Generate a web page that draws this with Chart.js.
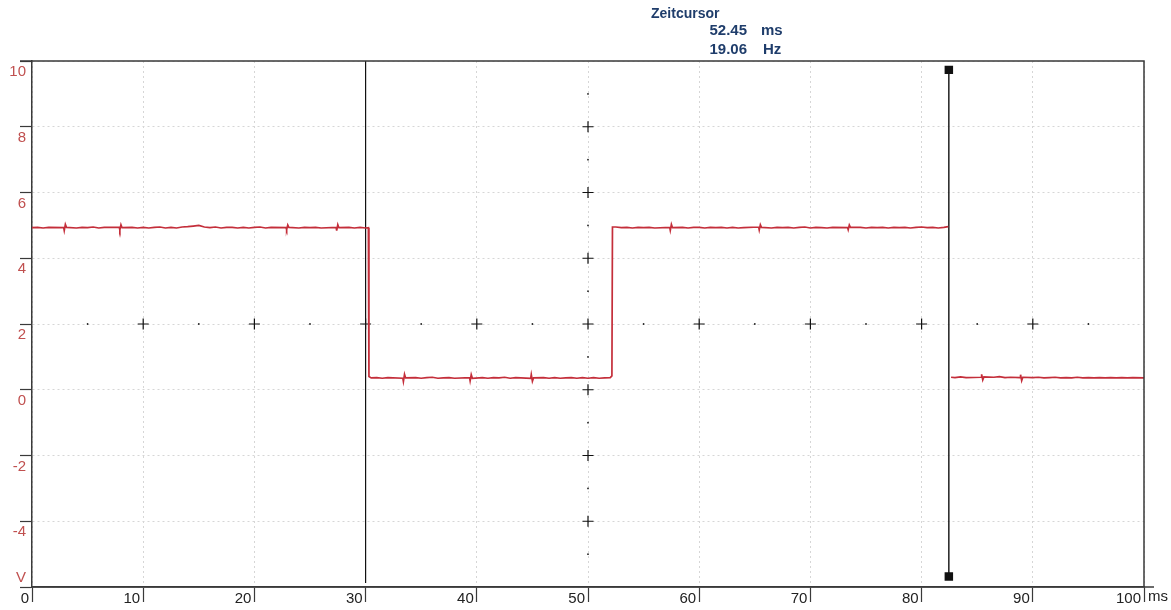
<!DOCTYPE html>
<html>
<head>
<meta charset="utf-8">
<script src="https://cdn.jsdelivr.net/npm/chart.js@4.4.1/dist/chart.umd.min.js"></script>
<style>
  html, body { margin: 0; padding: 0; background: #fff; }
  canvas { display: block; }
</style>
</head>
<body>
<canvas id="scope" width="1171" height="610"></canvas>
<script>
// measured trace, in four pieces (ms / V)
const highA_t = [0, 0.5, 1, 1.5, 2.85, 2.9, 3, 3.1, 4, 4.5, 5, 5.5, 6, 6.5, 7.85, 7.9, 8, 8.1, 9, 9.5,
  10, 10.5, 11, 11.5, 12, 12.5, 13, 13.5, 14, 14.5, 15, 15.5, 16, 16.5, 17, 17.5, 18, 18.5, 19, 19.5,
  20, 20.5, 21, 21.5, 22.85, 22.9, 23, 23.1, 24, 24.5, 25, 25.5, 26, 27.35, 27.4, 27.5, 27.6, 28.5, 29, 29.5, 30, 30.25];
const highA_v = [4.93, 4.94, 4.92, 4.94, 4.93, 4.84, 5.03, 4.94, 4.92, 4.94,
  4.93, 4.95, 4.92, 4.94, 4.94, 4.86, 5.02, 4.93, 4.94, 4.92,
  4.94, 4.92, 4.94, 4.95, 4.92, 4.94, 4.92, 4.95, 4.96, 4.98,
  5.00, 4.95, 4.93, 4.95, 4.92, 4.94, 4.94, 4.92, 4.94, 4.92,
  4.94, 4.95, 4.92, 4.94, 4.93, 4.87, 5.01, 4.94, 4.92, 4.94,
  4.93, 4.94, 4.92, 4.94, 4.84, 5.02, 4.93, 4.94, 4.92, 4.94, 4.92, 4.93];

const lowB_t = [30.3, 30.5, 31, 31.5, 32, 33.35, 33.4, 33.5, 33.6, 34.5, 35, 35.5, 36, 36.5, 37, 37.5, 38, 39.35, 39.4, 39.5,
  39.6, 40.5, 41, 41.5, 42, 42.5, 43, 43.5, 44.85, 44.9, 45, 45.1, 46, 46.5, 47, 47.5, 48, 48.5, 49, 49.5,
  50, 50.5, 51, 51.5, 52, 52.15];
const lowB_v = [0.40, 0.36, 0.37, 0.35, 0.37, 0.35, 0.25, 0.47, 0.36, 0.37,
  0.35, 0.37, 0.38, 0.35, 0.36, 0.37, 0.35, 0.37, 0.27, 0.46,
  0.35, 0.37, 0.35, 0.37, 0.36, 0.38, 0.35, 0.37, 0.35, 0.46,
  0.26, 0.36, 0.37, 0.35, 0.37, 0.35, 0.36, 0.37, 0.35, 0.37,
  0.35, 0.37, 0.35, 0.36, 0.37, 0.42];

const highC_t = [52.2, 52.5, 53, 53.5, 54, 54.5, 55, 55.5, 56, 57.35, 57.4, 57.5, 57.6, 58.5, 59, 59.5,
  60, 60.5, 61, 61.5, 62, 62.5, 63, 63.5, 64, 65.35, 65.4, 65.5, 65.6, 66.5, 67, 67.5, 68, 68.5, 69, 69.5,
  70, 70.5, 71, 71.5, 72, 73.35, 73.4, 73.5, 73.6, 74.5, 75, 75.5, 76, 76.5, 77, 77.5, 78, 78.5, 79, 79.5,
  80, 80.5, 81, 81.5, 82, 82.4];
const highC_v = [4.95, 4.95, 4.93, 4.94, 4.92, 4.94, 4.93, 4.94, 4.92, 4.94,
  4.85, 5.03, 4.93, 4.94, 4.92, 4.94, 4.94, 4.92, 4.94, 4.93,
  4.94, 4.92, 4.94, 4.92, 4.93, 4.95, 4.86, 5.02, 4.94, 4.92,
  4.94, 4.93, 4.94, 4.92, 4.94, 4.95, 4.92, 4.94, 4.93, 4.92,
  4.94, 4.93, 4.87, 5.01, 4.94, 4.94, 4.92, 4.94, 4.93, 4.94,
  4.92, 4.94, 4.93, 4.94, 4.92, 4.94, 4.95, 4.93, 4.94, 4.92, 4.94, 4.96];

const lowD_t = [82.65, 83, 83.5, 84, 85.35, 85.4, 85.5, 85.6, 86.5, 87, 87.5, 88, 88.85, 88.9, 89, 89.1,
  90, 90.5, 91, 91.5, 92, 92.5, 93, 93.5, 94, 94.5, 95, 95.5, 96, 96.5, 97, 97.5, 98, 98.5, 99, 100];
const lowD_v = [0.38, 0.37, 0.39, 0.37, 0.38, 0.47, 0.30, 0.39, 0.38, 0.40,
  0.37, 0.38, 0.37, 0.46, 0.28, 0.38, 0.37, 0.38, 0.36, 0.37,
  0.38, 0.36, 0.37, 0.36, 0.38, 0.36, 0.37, 0.36, 0.37, 0.36,
  0.37, 0.36, 0.37, 0.36, 0.37, 0.36];

const gapTime = 82.5; // recording gap at the second cursor

// time cursors (ms)
const cursor1 = 30.0;
const cursor2 = 82.45;
const cursorReadout = ['52.45', '19.06'];
const cursorUnits = ['ms', 'Hz'];

// graticule marks
const crossX = [10, 20, 30, 40, 50, 60, 70, 80, 90];   // on the 2 V line
const crossY = [8, 6, 4, 0, -2, -4];                     // on the 50 ms line
const dotX = [5, 15, 25, 35, 45, 55, 65, 75, 85, 95];
const dotY = [9, 7, 5, 3, 1, -1, -3, -5];
const gratX = 50, gratY = 2;

const yTicks = [-6, -4, -2, 0, 2, 4, 6, 8, 10];
const xTicks = [0, 10, 20, 30, 40, 50, 60, 70, 80, 90, 100];

const FONT = '"Liberation Sans", Arial, sans-serif';
const AXIS = '#3a3a3a';

const pts = (ts, vs) => ts.map((t, i) => ({ x: t, y: vs[i] }));
const signal = [].concat(
  pts(highA_t, highA_v),
  pts(lowB_t, lowB_v),
  pts(highC_t, highC_v),
  [{ x: gapTime, y: null }],
  pts(lowD_t, lowD_v)
);
const crosses = crossX.map(x => ({ x: x, y: gratY })).concat(crossY.map(y => ({ x: gratX, y: y })));
const dots = dotX.map(x => ({ x: x, y: gratY })).concat(dotY.map(y => ({ x: gratX, y: y })));

const framePlugin = {
  id: 'frame',
  afterDraw(chart) {
    const { ctx, chartArea: a } = chart;
    ctx.save();
    ctx.strokeStyle = AXIS;
    ctx.lineWidth = 1.5;
    ctx.beginPath();
    ctx.moveTo(20, a.top); ctx.lineTo(a.right, a.top);
    ctx.lineTo(a.right, a.bottom);
    ctx.moveTo(a.left, a.bottom); ctx.lineTo(a.right + 10, a.bottom);
    ctx.stroke();

    ctx.font = '15px ' + FONT;
    ctx.textBaseline = 'middle';
    ctx.fillStyle = '#c0504f';
    ctx.textAlign = 'right';
    ctx.fillText('V', 26, 578);
    ctx.fillStyle = '#222';
    ctx.textAlign = 'left';
    ctx.fillText('ms', a.right + 4, 597);

    ctx.fillStyle = '#1f3d6b';
    ctx.font = 'bold 14px ' + FONT;
    ctx.fillText('Zeitcursor', 651, 14);
    ctx.font = 'bold 15px ' + FONT;
    ctx.textAlign = 'right';
    ctx.fillText(cursorReadout[0], 747, 31);
    ctx.fillText(cursorReadout[1], 747, 50);
    ctx.textAlign = 'left';
    ctx.fillText(cursorUnits[0], 761, 31);
    ctx.fillText(cursorUnits[1], 763, 50);
    ctx.restore();
  }
};

new Chart(document.getElementById('scope'), {
  type: 'scatter',
  data: {
    datasets: [
      {
        label: 'signal',
        data: signal,
        showLine: true,
        spanGaps: false,
        borderColor: '#c42e3a',
        borderWidth: 1.7,
        pointRadius: 0,
        order: 1
      },
      {
        label: 'cursor1',
        data: [{ x: cursor1, y: 10 }, { x: cursor1, y: -5.88 }],
        showLine: true,
        borderColor: '#111',
        borderWidth: 1.2,
        pointRadius: 0,
        order: 2
      },
      {
        label: 'cursor2',
        data: [{ x: cursor2, y: 9.73 }, { x: cursor2, y: -5.68 }],
        showLine: true,
        borderColor: '#111',
        backgroundColor: '#111',
        borderWidth: 1.4,
        pointStyle: 'rect',
        pointRadius: 5,
        order: 2
      },
      {
        label: 'crosses',
        data: crosses,
        pointStyle: 'cross',
        pointRadius: 5.5,
        borderColor: '#111',
        borderWidth: 1.2,
        order: 3
      },
      {
        label: 'dots',
        data: dots,
        pointStyle: 'circle',
        pointRadius: 0.9,
        borderWidth: 0,
        backgroundColor: '#222',
        order: 3
      }
    ]
  },
  options: {
    responsive: false,
    animation: false,
    devicePixelRatio: 1,
    layout: { padding: { top: 61, right: 27, left: 0, bottom: 0 } },
    plugins: {
      legend: { display: false },
      tooltip: { enabled: false }
    },
    scales: {
      x: {
        type: 'linear',
        min: 0,
        max: 100,
        afterBuildTicks: s => { s.ticks = xTicks.map(v => ({ value: v })); },
        afterFit: s => { s.height = 23; },
        ticks: {
          align: 'end',
          labelOffset: -3,
          padding: -12,
          color: '#222',
          font: { family: FONT, size: 15 },
          maxRotation: 0,
          autoSkip: false,
          callback: v => String(v)
        },
        grid: {
          color: '#d6d6d6',
          tickColor: AXIS,
          tickLength: 15,
          tickWidth: 1.2
        },
        border: { display: true, color: AXIS, width: 1.5, dash: [2, 3] }
      },
      y: {
        type: 'linear',
        min: -6,
        max: 10,
        afterBuildTicks: s => { s.ticks = yTicks.map(v => ({ value: v })); },
        afterFit: s => { s.width = 32; },
        ticks: {
          labelOffset: 11,
          padding: -6,
          color: '#c0504f',
          font: { family: FONT, size: 15 },
          autoSkip: false,
          callback: v => (v === -6 ? '' : String(v))
        },
        grid: {
          color: '#d6d6d6',
          tickColor: AXIS,
          tickLength: 12,
          tickWidth: 1.2
        },
        border: { display: true, color: AXIS, width: 1.5, dash: [2, 3] }
      }
    }
  },
  plugins: [framePlugin]
});
</script>
</body>
</html>
